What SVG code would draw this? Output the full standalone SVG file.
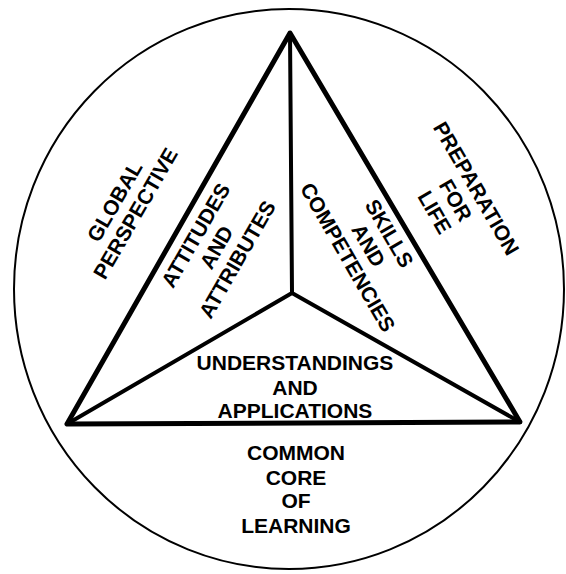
<svg xmlns="http://www.w3.org/2000/svg" width="566" height="574" viewBox="0 0 566 574">
<style>
text{font-family:"Liberation Sans",Arial,sans-serif;font-weight:bold;font-size:21px;fill:#000;text-anchor:middle}
.edge{fill:none;stroke:#000;stroke-width:5;stroke-linejoin:round;stroke-linecap:round}
.spoke{fill:none;stroke:#000;stroke-width:4;stroke-linecap:round}
</style>
<rect width="566" height="574" fill="#fff"/>
<g id="outer-circle"><ellipse cx="289" cy="289" rx="275" ry="280" fill="none" stroke="#000" stroke-width="2"/></g>
<g id="connectors">
<polygon class="edge" points="290,33 67,424 520,422"/>
<line class="spoke" x1="290" y1="33" x2="292" y2="293"/>
<line class="spoke" x1="292" y1="293" x2="67" y2="424"/>
<line class="spoke" x1="292" y1="293" x2="520" y2="422"/>
</g>
<g id="global-perspective" transform="translate(121,205) rotate(-60)"><text y="0">GLOBAL</text><text y="24">PERSPECTIVE</text></g>
<g id="attitudes" transform="translate(202,239) rotate(-60)"><text y="0">ATTITUDES</text><text y="24">AND</text><text y="48">ATTRIBUTES</text></g>
<g id="skills" transform="translate(383,237) rotate(60)"><text y="0">SKILLS</text><text y="24">AND</text><text y="48">COMPETENCIES</text></g>
<g id="preparation" transform="translate(470,192) rotate(60)"><text y="0">PREPARATION</text><text y="24">FOR</text><text y="48">LIFE</text></g>
<g id="understandings"><text x="295" y="370">UNDERSTANDINGS</text><text x="295" y="395">AND</text><text x="295" y="418">APPLICATIONS</text></g>
<g id="common-core"><text x="296" y="460">COMMON</text><text x="296" y="485">CORE</text><text x="296" y="508">OF</text><text x="296" y="533">LEARNING</text></g>
</svg>
